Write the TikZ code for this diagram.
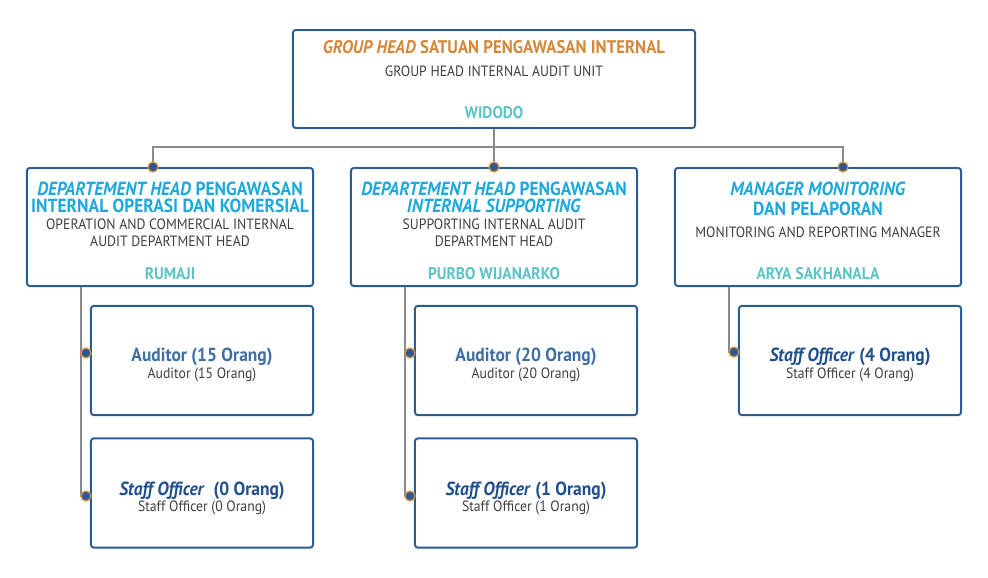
\documentclass[tikz,border=0pt]{standalone}
\usepackage{fontspec}
\setmainfont{PT Sans}[FakeStretch=0.92]
\usetikzlibrary{calc}

\definecolor{boxblue}{HTML}{2B5C93}
\definecolor{linkgray}{HTML}{8A8A8A}
\definecolor{dotblue}{HTML}{2A5A92}
\definecolor{dotorange}{HTML}{D9913E}
\definecolor{headorange}{HTML}{D4883A}
\definecolor{headcyan}{HTML}{1EA9DC}
\definecolor{nameteal}{HTML}{5BC4C6}
\definecolor{txtgray}{HTML}{3F3F3F}
\definecolor{audblue}{HTML}{3F6EA3}
\definecolor{staffblue}{HTML}{1F4F8C}

\begin{document}
\begin{tikzpicture}[x=0.025cm, y=-0.025cm,
  box/.style={draw=boxblue, line width=1.4pt, rounded corners=2pt, fill=white, inner sep=0pt},
  link/.style={draw=linkgray, line width=1.4pt},
  dot/.style={circle, fill=dotblue, draw=dotorange, line width=0.9pt, inner sep=0pt, minimum size=7pt},
  lbl/.style={anchor=base, inner sep=0pt},
  headtxt/.style={lbl, font=\fontsize{13.5}{15}\selectfont\bfseries},
  subtxt/.style={lbl, font=\fontsize{10.6}{12}\selectfont, text=txtgray},
  nametxt/.style={lbl, font=\fontsize{12}{14}\selectfont\bfseries, text=nameteal}]
\useasboundingbox (0,0) rectangle (988,578);

% boxes
\node[box, minimum width=10.05cm, minimum height=2.45cm] (top) at (494,79) {};
\node[box, minimum width=7.15cm, minimum height=2.95cm] (dept1) at (170,227) {};
\node[box, minimum width=7.15cm, minimum height=2.95cm] (dept2) at (494,227) {};
\node[box, minimum width=7.15cm, minimum height=2.95cm] (dept3) at (818,227) {};
\node[box, minimum width=5.55cm, minimum height=2.73cm] (aud1) at (202,360.5) {};
\node[box, minimum width=5.55cm, minimum height=2.73cm] (staff1) at (202,493) {};
\node[box, minimum width=5.55cm, minimum height=2.73cm] (aud2) at (526,360.5) {};
\node[box, minimum width=5.55cm, minimum height=2.73cm] (staff2) at (526,493) {};
\node[box, minimum width=5.55cm, minimum height=2.73cm] (staff3) at (850,360.5) {};

% connectors
\coordinate (d1in) at (dept1.north -| 153,0);
\coordinate (d3in) at (dept3.north -| 843,0);
\draw[link] (top.south) -- (dept2.north);
\draw[link] (d1in) -- ++(0,-20) -| (d3in);

\coordinate (a1in) at (86,353);
\coordinate (s1in) at (86,496);
\coordinate (a2in) at (410,353);
\coordinate (s2in) at (410,496);
\coordinate (s3in) at (734,352);
\draw[link] (dept1.south -| 81,0) |- (s1in);
\draw[link] (dept1.south -| 81,0) |- (a1in);
\draw[link] (dept2.south -| 405,0) |- (s2in);
\draw[link] (dept2.south -| 405,0) |- (a2in);
\draw[link] (dept3.south -| 729,0) |- (s3in);

\foreach \p in {d1in, dept2.north, d3in, a1in, s1in, a2in, s2in, s3in}
  \node[dot] at (\p) {};

% top box
\node[headtxt, text=headorange, font=\fontsize{13}{15}\selectfont\bfseries] (tophead) at (494,54) {\textit{GROUP HEAD} SATUAN PENGAWASAN INTERNAL};
\node[subtxt] (topsub) at (494,77) {GROUP HEAD INTERNAL AUDIT UNIT};
\node[nametxt] (topname) at (494,119) {WIDODO};

% department heads
\node[headtxt, text=headcyan] (d1head) at (170,195) {\textit{DEPARTEMENT HEAD} PENGAWASAN};
\node[headtxt, text=headcyan] (d1head2) at (170,212) {INTERNAL OPERASI DAN KOMERSIAL};
\node[subtxt] (d1sub) at (170,229) {OPERATION AND COMMERCIAL INTERNAL};
\node[subtxt] (d1sub2) at (170,246) {AUDIT DEPARTMENT HEAD};
\node[nametxt] (d1name) at (170,279) {RUMAJI};

\node[headtxt, text=headcyan] (d2head) at (494,195) {\textit{DEPARTEMENT HEAD} PENGAWASAN};
\node[headtxt, text=headcyan] (d2head2) at (494,212) {\textit{INTERNAL SUPPORTING}};
\node[subtxt] (d2sub) at (494,229) {SUPPORTING INTERNAL AUDIT};
\node[subtxt] (d2sub2) at (494,246) {DEPARTMENT HEAD};
\node[nametxt] (d2name) at (494,279) {PURBO WIJANARKO};

\node[headtxt, text=headcyan] (d3head) at (818,195) {\textit{MANAGER MONITORING}};
\node[headtxt, text=headcyan] (d3head2) at (818,216) {DAN PELAPORAN};
\node[subtxt] (d3sub) at (818,237) {MONITORING AND REPORTING MANAGER};
\node[nametxt] (d3name) at (818,279) {ARYA SAKHANALA};

% staff boxes
\node[headtxt, text=audblue] (a1head) at (202,361) {Auditor (15 Orang)};
\node[subtxt] (a1sub) at (202,378) {Auditor (15 Orang)};
\node[headtxt, text=staffblue] (s1head) at (202,495) {\textit{Staff Officer}\ \ (0 Orang)};
\node[subtxt] (s1sub) at (202,511) {Staff Officer (0 Orang)};

\node[headtxt, text=audblue] (a2head) at (526,361) {Auditor (20 Orang)};
\node[subtxt] (a2sub) at (526,378) {Auditor (20 Orang)};
\node[headtxt, text=staffblue] (s2head) at (526,495) {\textit{Staff Officer} (1 Orang)};
\node[subtxt] (s2sub) at (526,511) {Staff Officer (1 Orang)};

\node[headtxt, text=staffblue] (s3head) at (850,361) {\textit{Staff Officer} (4 Orang)};
\node[subtxt] (s3sub) at (850,378) {Staff Officer (4 Orang)};
\end{tikzpicture}
\end{document}
